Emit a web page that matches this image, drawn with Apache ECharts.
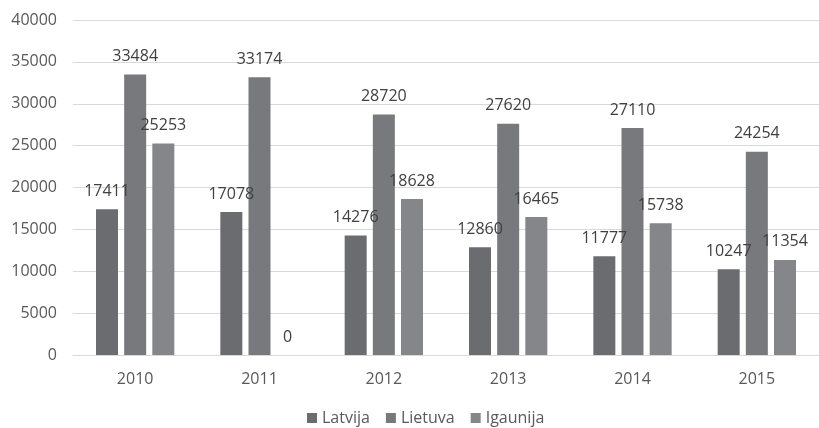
<!DOCTYPE html>
<html>
<head>
<meta charset="utf-8">
<script src="https://cdn.jsdelivr.net/npm/echarts@6/dist/echarts.min.js"></script>
<style>html,body{margin:0;padding:0;background:#fff;}#c{width:819px;height:428px;}</style>
</head>
<body>
<div id="c"></div>
<script>
const years = ['2010', '2011', '2012', '2013', '2014', '2015'];
const latvija = [17411, 17078, 14276, 12860, 11777, 10247];
const lietuva = [33484, 33174, 28720, 27620, 27110, 24254];
const igaunija = [25253, 0, 18628, 16465, 15738, 11354];
const seriesNames = ['Latvija', 'Lietuva', 'Igaunija'];
const colors = ['#6b6c70', '#78797d', '#85868a'];

const font = 'Open Sans';
const chart = echarts.init(document.getElementById('c'));
const mk = (name, data, color) => ({
  name, type: 'bar', data, barWidth: 22, barGap: '28%',
  itemStyle: { color },
  label: { show: true, position: 'top', distance: 10, color: '#404040', fontSize: 16, fontFamily: font }
});
chart.setOption({
  animation: false,
  color: colors,
  grid: { left: 73, top: 20, width: 754, height: 335 },
  legend: {
    top: 405, left: 302, icon: 'rect', itemWidth: 10, itemHeight: 10, itemGap: 16,
    textStyle: { color: '#595959', fontSize: 16, fontFamily: font }
  },
  xAxis: {
    type: 'category', data: years,
    axisLine: { lineStyle: { color: '#d9d9d9' } },
    axisTick: { show: false },
    axisLabel: { color: '#595959', fontSize: 16, fontFamily: font, margin: 16 }
  },
  yAxis: {
    type: 'value', min: 0, max: 40000, interval: 5000,
    axisLabel: { color: '#595959', fontSize: 16, fontFamily: font, margin: 16, formatter: v => String(v) },
    splitLine: { lineStyle: { color: '#d9d9d9' } },
    axisLine: { show: false }, axisTick: { show: false }
  },
  series: [mk(seriesNames[0], latvija, colors[0]), mk(seriesNames[1], lietuva, colors[1]), mk(seriesNames[2], igaunija, colors[2])]
});
</script>
</body>
</html>
